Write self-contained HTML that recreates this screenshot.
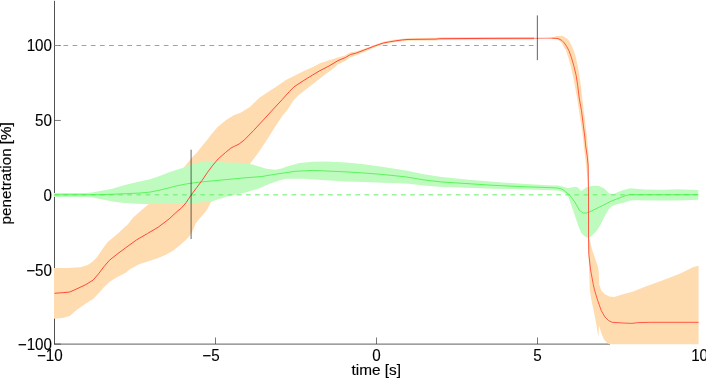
<!DOCTYPE html>
<html><head><meta charset="utf-8">
<style>
html,body{margin:0;padding:0;background:#fff;}
body{width:706px;height:379px;overflow:hidden;}
svg{display:block;}
text{font-family:"Liberation Sans",sans-serif;font-size:15.35px;fill:#000;stroke:#000;stroke-width:0.15px;}
</style></head><body>
<svg width="706" height="379" viewBox="0 0 706 379" style="will-change:transform">
<rect width="706" height="379" fill="#fff"/>
<!-- axes -->
<g stroke="#262626" fill="none">
<line x1="54.5" y1="0.8" x2="54.5" y2="344.3" stroke-width="0.8"/>
<line x1="54.1" y1="344.1" x2="610" y2="344.1" stroke-width="0.74"/>
<g stroke-width="0.62">
<!-- x ticks -->
<line x1="215.5" y1="344" x2="215.5" y2="337.5"/>
<line x1="376.5" y1="344" x2="376.5" y2="337.5"/>
<line x1="537.5" y1="344" x2="537.5" y2="337.5"/>
<!-- y ticks -->
<line x1="54.5" y1="344.1" x2="60.8" y2="344.1"/>
<line x1="54.5" y1="269.5" x2="60.8" y2="269.5"/>
<line x1="54.5" y1="194.7" x2="60.8" y2="194.7"/>
<line x1="54.5" y1="120.45" x2="60.8" y2="120.45"/>
<line x1="54.5" y1="45.5" x2="60.8" y2="45.5"/>
</g>
</g>
<!-- dashed refs -->
<line x1="54.3" y1="45.5" x2="534" y2="45.5" stroke="#ff6066" stroke-width="0.85" stroke-dasharray="4.7 4.425"/>
<!-- orange bands -->
<polygon points="54.00,268.10 68.00,267.90 80.50,267.20 87.70,264.90 93.10,261.30 96.90,257.30 102.30,249.20 107.70,242.10 113.10,237.60 118.50,233.10 123.90,227.70 127.70,224.60 133.10,217.40 140.30,211.20 147.50,204.90 160.00,195.00 170.00,184.00 183.90,167.40 191.50,158.00 196.90,152.60 203.00,144.80 207.70,139.30 210.40,135.50 217.60,126.90 226.50,119.80 233.70,115.30 240.90,112.51 249.90,107.09 259.00,98.10 268.00,91.90 276.90,86.35 285.90,79.98 294.90,75.46 303.90,71.03 312.90,67.01 320.00,63.30 329.00,60.30 337.90,57.60 345.10,55.50 350.50,52.20 355.90,51.50 364.80,48.40 373.80,45.20 380.00,43.11 383.30,41.75 389.60,40.55 396.00,39.55 402.30,38.68 408.00,38.15 436.00,37.75 440.00,37.35 488.00,37.05 534.00,36.95 534.00,39.65 488.00,39.75 440.00,40.05 436.00,40.45 408.00,40.75 402.30,41.18 396.00,42.05 389.60,43.05 383.30,44.25 380.00,45.41 373.80,47.80 364.80,51.80 355.90,55.60 350.50,57.20 345.10,61.00 337.90,64.40 331.70,69.80 325.40,74.20 320.00,78.40 312.90,83.89 303.90,91.03 298.50,95.33 293.10,101.02 287.70,109.53 282.30,116.00 275.00,126.90 267.80,138.60 258.90,152.10 250.60,162.90 235.00,180.00 210.80,202.30 207.70,208.50 205.00,212.50 200.50,217.50 196.00,223.00 192.90,230.30 190.00,235.60 185.60,240.20 179.30,245.80 173.00,250.80 165.90,254.80 156.90,258.40 147.90,261.50 139.00,264.30 130.00,269.30 125.40,273.00 116.50,277.50 109.30,281.90 103.90,287.30 98.50,293.60 93.10,299.00 85.90,303.50 76.90,309.80 69.80,316.10 62.60,317.90 54.00,318.80" fill="#ffdcaf"/>
<polygon points="548.00,37.90 551.60,37.60 556.70,36.00 561.80,35.70 564.30,36.80 568.10,39.40 570.60,43.50 573.20,49.20 575.20,55.00 577.10,62.70 579.00,72.80 580.70,84.20 582.20,98.00 583.80,110.70 585.60,125.80 586.80,136.00 587.80,146.00 588.50,153.60 588.90,165.00 589.00,194.00 589.10,237.80 592.40,250.40 596.00,261.10 598.10,267.40 598.70,271.90 599.20,284.50 601.30,290.40 604.90,294.20 609.40,296.50 613.90,297.10 616.60,296.20 624.70,293.80 632.40,291.70 645.00,286.80 662.90,280.20 680.90,273.30 693.40,267.10 698.60,265.80 698.60,344.30 609.40,344.30 606.70,342.40 604.00,339.40 601.30,333.10 599.00,325.50 598.30,337.60 596.90,327.70 594.20,313.30 591.50,300.80 589.80,290.00 589.10,271.90 588.60,254.00 588.20,237.80 588.10,194.00 587.80,182.70 586.80,171.30 585.30,158.70 583.80,146.00 582.80,136.00 581.30,125.80 579.00,110.70 577.10,98.00 575.20,88.00 573.30,77.80 570.80,66.50 568.30,57.60 566.10,50.50 564.30,48.00 561.80,42.90 558.00,39.70 551.60,38.60 548.00,38.50" fill="#ffdcaf"/>
<!-- green band -->
<polygon points="54.00,193.10 85.00,193.00 92.00,192.50 100.00,191.00 112.30,188.70 124.80,185.00 137.30,182.00 150.00,179.30 159.00,176.30 170.00,171.90 176.90,169.70 183.90,167.40 191.50,164.20 201.40,162.00 212.90,161.20 226.00,162.60 239.50,162.80 250.20,163.90 257.40,166.00 266.40,168.70 275.30,169.70 281.60,168.40 286.00,166.80 299.50,163.00 312.90,161.80 326.40,161.50 346.00,162.60 363.90,164.30 381.90,166.80 406.00,170.50 423.90,174.30 441.90,177.00 466.00,179.40 492.90,181.70 526.00,184.00 548.00,185.20 558.80,185.50 567.80,187.90 571.00,187.40 574.90,186.70 577.60,187.30 581.20,191.10 586.60,187.30 591.10,186.10 598.30,185.80 603.70,187.90 609.10,193.30 612.70,194.60 617.10,192.40 623.40,190.00 630.60,188.20 636.00,188.80 645.00,189.40 662.90,189.80 677.30,189.30 698.30,190.00 698.30,199.70 677.30,200.40 653.90,200.60 636.00,200.20 630.60,200.50 623.40,202.80 616.20,204.60 610.90,206.70 608.20,210.30 604.60,216.60 600.10,225.60 596.50,231.00 592.00,235.50 588.40,238.30 583.90,235.80 581.20,232.80 578.50,226.50 574.90,215.70 571.30,205.00 567.80,196.00 564.20,192.40 561.90,191.30 557.40,190.40 543.90,189.90 526.00,189.50 492.90,188.80 466.00,187.80 441.90,186.90 423.90,185.50 406.00,183.40 381.90,182.80 363.90,182.10 346.00,181.60 321.90,180.00 303.90,178.70 286.00,178.70 280.00,180.30 269.00,184.00 260.00,188.00 247.50,192.00 235.50,194.70 227.40,196.50 218.40,199.20 210.80,201.80 200.30,202.60 190.00,203.60 178.00,204.00 161.80,204.10 143.90,203.90 137.30,203.70 124.80,203.10 112.30,201.50 105.00,200.10 100.00,199.10 92.00,197.50 85.00,197.00 54.00,196.95" fill="#bffbbf"/>
<line x1="54.3" y1="194.85" x2="698.3" y2="194.85" stroke="#66ee66" stroke-width="1" stroke-dasharray="4.7 4.425"/>
<polyline points="54.60,194.85 100.00,194.70 125.00,193.75 140.00,193.00 150.00,192.10 159.00,190.30 168.00,188.10 176.90,185.80 185.90,184.00 194.90,182.70 203.90,181.70 226.00,179.60 243.90,177.90 261.90,176.50 275.30,174.20 286.00,172.70 295.00,171.30 312.90,170.40 330.80,171.20 346.00,171.90 363.90,173.00 381.90,174.40 406.00,176.90 423.90,179.90 441.90,182.00 466.00,183.50 492.90,185.30 526.00,186.80 543.90,187.40 557.40,188.00 561.90,189.00 564.20,190.60 569.60,195.10 574.90,202.20 579.40,210.30 583.00,213.00 586.60,213.00 591.10,211.20 598.30,207.60 603.70,205.00 610.90,201.30 619.80,197.80 625.20,195.70 630.60,194.40 636.00,194.70 698.30,194.70" fill="none" stroke="#3cf03c" stroke-width="0.75" stroke-linejoin="round"/>
<polyline points="54.50,293.30 62.60,292.70 69.80,292.00 76.90,288.80 85.90,284.60 93.10,280.10 98.50,273.90 103.90,266.70 109.30,260.40 116.90,254.30 125.90,247.60 136.70,239.80 147.50,233.50 158.20,227.20 169.00,219.00 178.00,210.70 181.40,208.10 185.90,202.90 191.30,194.80 196.70,187.60 202.10,180.40 207.50,172.30 212.90,165.10 218.20,158.90 225.40,152.60 230.80,148.10 234.40,146.30 239.10,144.00 244.50,139.82 253.50,130.56 262.50,120.91 271.40,111.17 282.30,99.46 289.50,91.42 294.00,86.85 303.90,80.38 312.90,74.82 320.00,70.60 329.00,66.00 337.90,60.70 345.10,57.70 350.50,54.50 355.90,53.20 364.80,49.80 373.80,46.30 380.00,44.11 383.30,43.00 389.60,41.80 396.00,40.80 402.30,39.93 408.00,39.45 436.00,39.10 440.00,38.70 488.00,38.40 534.00,38.30" fill="none" stroke="#ff4836" stroke-width="1" stroke-linejoin="round"/>
<polyline points="534.00,38.30 537.00,38.30 551.60,38.20" fill="none" stroke="#ff4836" stroke-width="0.65" stroke-linejoin="round"/>
<polyline points="551.60,38.20 558.00,38.50 561.80,40.40 564.30,42.90 566.80,46.70 568.90,50.50 571.50,57.80 574.00,66.50 576.10,75.30 577.70,85.40 579.20,98.00 581.50,110.70 583.40,125.80 584.70,136.00 585.70,146.00 587.20,156.10 588.10,165.00 588.50,194.00 588.50,236.00 588.80,254.00 590.60,270.10 593.30,284.50 594.50,290.00 597.80,300.80 601.30,310.70 604.90,316.90 608.50,320.50 612.10,322.30 622.90,323.00 631.90,323.40 637.30,322.70 649.80,322.30 698.60,322.30" fill="none" stroke="#ff4836" stroke-width="0.9" stroke-linejoin="round"/>
<!-- markers -->
<line x1="191.1" y1="149.7" x2="191.1" y2="239" stroke="#000" stroke-width="0.6"/>
<line x1="537.35" y1="15.4" x2="537.35" y2="60.2" stroke="#000" stroke-width="0.62"/>
<!-- labels -->
<g text-anchor="end">
<text transform="translate(52,51.3) scale(1,1.04)" style="font-size:15.2px;stroke-width:0.1px">100</text>
<text transform="translate(52,126) scale(1,1.04)" style="font-size:15.2px;stroke-width:0.1px">50</text>
<text transform="translate(52,200.8) scale(1,1.04)" style="font-size:15.2px;stroke-width:0.1px">0</text>
<text transform="translate(52,275.9) scale(1,1.04)" style="font-size:15.2px;stroke-width:0.1px">−50</text>
<text transform="translate(52,349.5) scale(1,1.04)" style="font-size:15.2px;stroke-width:0.1px">−100</text>
</g>
<g text-anchor="middle">
<text transform="translate(49.8,360.7) scale(1,1.04)" style="font-size:15.2px;stroke-width:0.1px">−10</text>
<text transform="translate(211,360.7) scale(1,1.04)" style="font-size:15.2px;stroke-width:0.1px">−5</text>
<text transform="translate(376.4,360.7) scale(1,1.04)" style="font-size:15.2px;stroke-width:0.1px">0</text>
<text transform="translate(537.4,360.7) scale(1,1.04)" style="font-size:15.2px;stroke-width:0.1px">5</text>
<text transform="translate(699.6,360.7) scale(1,1.04)" style="font-size:15.2px;stroke-width:0.1px">10</text>
<text x="376.2" y="375.3">time [s]</text>
<text transform="translate(11.35,173.3) rotate(-90)" style="font-size:15.2px">penetration [%]</text>
</g>
</svg>
</body></html>
